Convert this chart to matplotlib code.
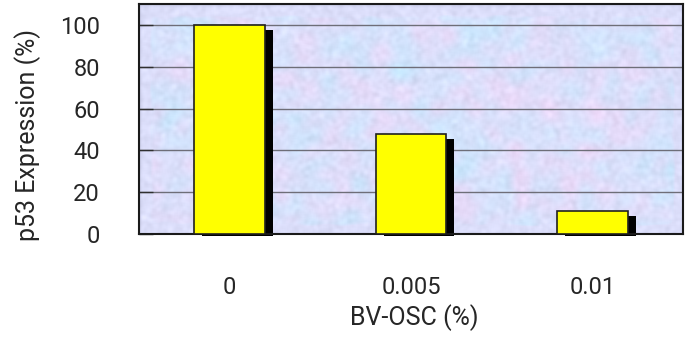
import numpy as np
import matplotlib
matplotlib.use("Agg")
import matplotlib.pyplot as plt

# Data
categories = ["0", "0.005", "0.01"]
expression = [100, 48, 11]
y_ticks = [0, 20, 40, 60, 80, 100]

plt.rcParams["font.family"] = ["Roboto", "DejaVu Sans"]
TXT = "#262626"

fig = plt.figure(figsize=(6.86, 3.37), dpi=100)
ax = fig.add_axes([139 / 686, 1 - 234 / 337, (683 - 139) / 686, (234 - 4) / 337])

# mottled pastel backdrop
rng = np.random.default_rng(11)
def smooth_noise(shape, k, passes=3):
    n = rng.random(shape)
    kern = np.ones(k) / k
    for _ in range(passes):
        n = np.apply_along_axis(lambda r: np.convolve(r, kern, mode="same"), 0, n)
        n = np.apply_along_axis(lambda r: np.convolve(r, kern, mode="same"), 1, n)
    return (n - n.mean()) / n.std()
h, w = 230, 544
a = smooth_noise((h, w), 14)
b = smooth_noise((h, w), 12)
f = smooth_noise((h, w), 4, 2)
base = np.array([0.86, 0.87, 0.98])
pink = np.array([0.95, 0.84, 0.97])
cyan = np.array([0.75, 0.92, 1.00])
img = base[None, None, :] * np.ones((h, w, 3))
img = img + (pink - base)[None, None, :] * np.clip(a[..., None] * 0.85, 0, 1)
img = img + (cyan - base)[None, None, :] * np.clip(b[..., None] * 0.85, 0, 1)
img = img + 0.015 * f[..., None]
img = np.clip(img, 0, 1)
ax.imshow(img, extent=(-0.5, 2.5, 0, 110), aspect="auto", zorder=0,
          interpolation="bilinear")

x = np.arange(len(categories))
width = 0.39

for yt in y_ticks[1:]:
    ax.axhline(yt, color="#6e6e78", lw=1.0, zorder=1)

# drop shadows, then bars
shadow_dx = 0.044
vals = np.array(expression, dtype=float)
ax.bar(x + shadow_dx, vals - 2.4 + 1.0, width=width, bottom=-1.0,
       color="black", zorder=2, clip_on=False)
ax.bar(x, vals, width=width, color="#ffff00", edgecolor="#202020",
       lw=1.2, zorder=3)

ax.set_xlim(-0.5, 2.5)
ax.set_ylim(0, 110)
ax.set_yticks(y_ticks)
ax.set_yticklabels([str(v) for v in y_ticks], fontsize=17, color=TXT)
ax.set_xticks(x)
ax.set_xticklabels(categories, fontsize=17, color=TXT)
ax.tick_params(axis="x", length=0, pad=30)
ax.tick_params(axis="y", direction="in", length=10, width=1, color="#303030",
               pad=28)
for s in ax.spines.values():
    s.set_linewidth(1.5)
    s.set_color("#1a1a1a")
ax.set_ylabel("p53 Expression (%)", fontsize=18, color=TXT)
ax.yaxis.set_label_coords((28 - 139) / 544, (234 - 135) / 230)
ax.set_xlabel("BV-OSC (%)", fontsize=18, color=TXT)
ax.xaxis.set_label_coords((414 - 139) / 544, (234 - 318) / 230)
ax.xaxis.label.set_va("center")
ax.yaxis.label.set_va("center")

fig.savefig("out.png", dpi=100)
